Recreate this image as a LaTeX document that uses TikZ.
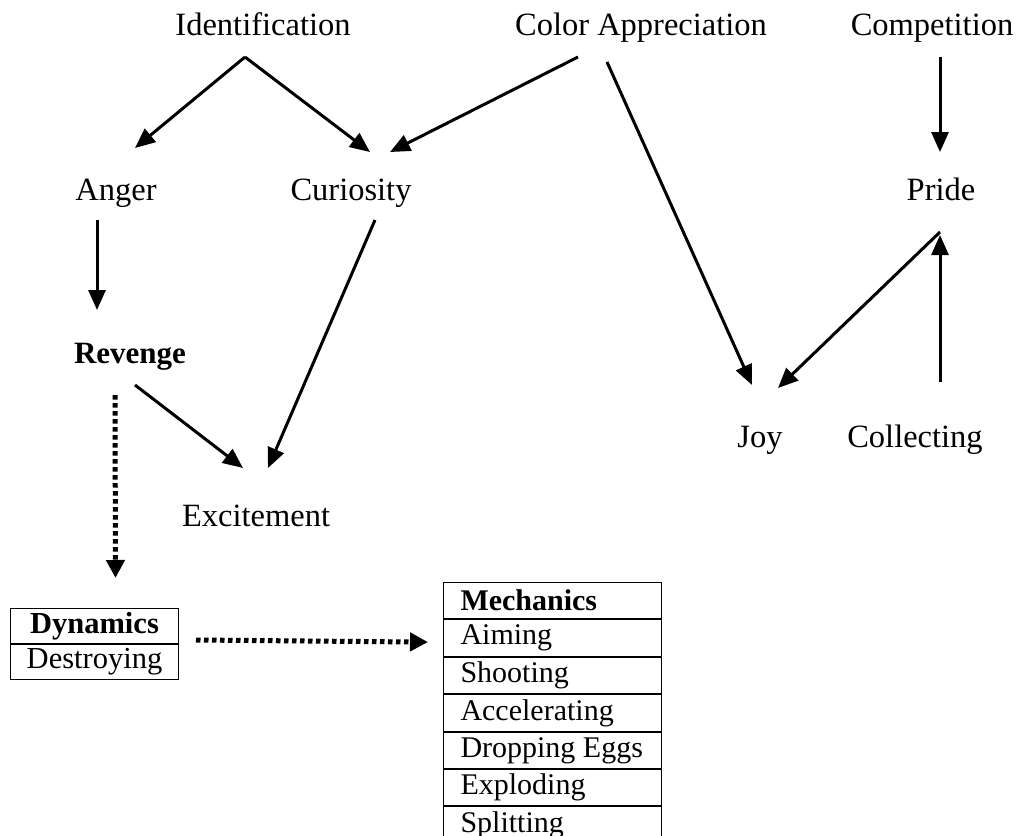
\documentclass[tikz,border=0pt]{standalone}
\usepackage{fontspec}
\setmainfont{Liberation Serif}
\usetikzlibrary{arrows.meta,calc}
\newcommand{\celltext}[1]{\makebox[184pt][l]{#1}}
\begin{document}
\begin{tikzpicture}[x=1pt,y=-1pt,
  lbl/.style={font=\fontsize{32.5}{38}\selectfont, inner sep=0pt, anchor=base},
  link/.style={line width=3pt, -{Triangle[length=20pt,width=17pt]}},
  dotlink/.style={line width=5pt, dash pattern=on 4.5pt off 3.5pt, -{Triangle[length=18pt,width=18pt]}},
  mcell/.style={draw, line width=1pt, anchor=north west, minimum height=36.4pt,
    minimum width=218pt, inner xsep=17pt, inner ysep=0pt,
    font=\fontsize{30}{34}\selectfont},
  dcell/.style={draw, line width=1pt, anchor=north west, minimum height=35pt,
    minimum width=168pt, inner sep=0pt, font=\fontsize{30.5}{34}\selectfont}
]
\useasboundingbox (0,0) rectangle (1021,836);

% emotion labels
\node[lbl] (ident) at (263,35) {Identification};
\node[lbl] (color) at (641,35) {Color Appreciation};
\node[lbl] (comp)  at (932,35) {Competition};
\node[lbl] (anger) at (116,200) {Anger};
\node[lbl] (cur)   at (351,200) {Curiosity};
\node[lbl] (pride) at (941,200) {Pride};
\node[lbl,font=\fontsize{31}{36}\selectfont\bfseries] (rev) at (130,363) {Revenge};
\node[lbl] (joy)   at (760,447) {Joy};
\node[lbl] (coll)  at (915,447) {Collecting};
\node[lbl] (exc)   at (256,526) {Excitement};

% dynamics table
\node[dcell] (d0) at (10,608) {\bfseries Dynamics};
\node[dcell] (d1) at (d0.south west) {Destroying};

% mechanics table
\node[mcell] (m0) at (443,582) {\celltext{\bfseries Mechanics}};
\node[mcell] (m1) at (m0.south west) {\celltext{Aiming}};
\node[mcell] (m2) at (m1.south west) {\celltext{Shooting}};
\node[mcell] (m3) at (m2.south west) {\celltext{Accelerating}};
\node[mcell] (m4) at (m3.south west) {\celltext{Dropping Eggs}};
\node[mcell] (m5) at (m4.south west) {\celltext{Exploding}};
\node[mcell] (m6) at (m5.south west) {\celltext{Splitting}};

% connectors
\draw[link] ($(ident.base)+(-18,22)$) -- ($(anger.base)+(19,-52)$);
\draw[link] ($(ident.base)+(-18,22)$) -- ($(cur.base)+(19,-48)$);
\draw[link] ($(color.base)+(-63,22)$) -- ($(cur.base)+(39,-48)$);
\draw[link] ($(color.base)+(-34,27)$) -- ($(joy.base)+(-8,-62)$);
\draw[link] ($(comp.base)+(8,22)$) -- ($(pride.base)+(-1,-48)$);
\draw[link] ($(anger.base)+(-19,20)$) -- ($(rev.base)+(-33,-53)$);
\draw[link] ($(cur.base)+(24,20)$) -- ($(exc.base)+(12,-58)$);
\draw[link] ($(rev.base)+(5,22)$) -- ($(exc.base)+(-13,-58)$);
\draw[link] ($(pride.base)+(-1,32)$) -- ($(joy.base)+(18,-59)$);
\draw[link] ($(coll.base)+(25,-65)$) -- ($(pride.base)+(-1,35)$);
\draw[dotlink] ($(rev.base)+(-15,32)$) -- ($(d0.north)+(21,-30)$);
\draw[dotlink] ($(d0.south east)+(17,-4)$) -- ($(m1.west)+(-15,4)$);
\end{tikzpicture}
\end{document}
